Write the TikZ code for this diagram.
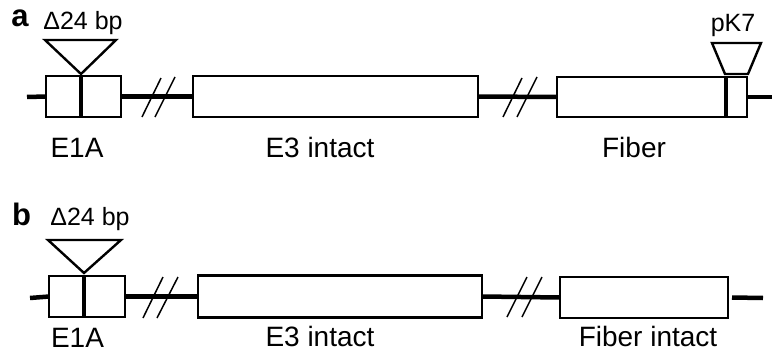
\documentclass[tikz,border=0pt]{standalone}
\usepackage{fontspec}
\setmainfont{Liberation Sans}
\usetikzlibrary{calc}
\begin{document}
\begin{tikzpicture}[x=1pt,y=-1pt,
  gene/.style={draw,line width=2.8pt,fill=white,rectangle,inner sep=0pt,outer sep=0pt},
  backbone/.style={line width=4.5pt},
  divider/.style={line width=4.2pt},
  breakmark/.style={line width=1.5pt},
  insert/.style={draw,line width=2.4pt,line join=miter,fill=white},
  lbl/.style={anchor=base,inner sep=0pt,font=\fontsize{28}{32}\selectfont},
  smalllbl/.style={anchor=base,inner sep=0pt,font=\fontsize{25}{29}\selectfont},
  panel/.style={anchor=base,inner sep=0pt,font=\fontsize{31}{35}\selectfont\bfseries}]
\useasboundingbox (0,0) rectangle (772,356);

% ---------------- panel a ----------------
\coordinate (aL) at (27,97);
\coordinate (aR) at (772,97);
\node[gene,minimum width=75pt,minimum height=41pt] (aE1A) at (83.5,96.5) {};
\node[gene,minimum width=285pt,minimum height=41pt] (aE3) at (335.5,96.5) {};
\node[gene,minimum width=169pt,minimum height=40pt] (aFib) at (641.5,97) {};
\node[gene,minimum width=21pt,minimum height=40pt] (aPK) at (736.5,97) {};
\draw[backbone] (aL) -- (aE1A.west);
\draw[backbone] (aE1A.east) -- (aE3.west);
\draw[backbone] (aE3.east) -- (aFib.west);
\draw[backbone] (aPK.east) -- (aR);
\draw[divider] (81,76) -- (81,117.5);
\draw[divider] (726,77) -- (726,117.5);
% break marks
\draw[breakmark] (142,117) -- (161,78) (155,117) -- (175,77);
\draw[breakmark] (503,117) -- (522,78) (517,117) -- (537,77);
% inserts
\draw[insert] (45,40) -- (116,40) -- (81,74) -- cycle;
\draw[insert] (712,43) -- (761,43) -- (748,74) -- (725,74) -- cycle;
% labels
\node[panel] (aTag) at (20,27) {a};
\node[smalllbl] (aDel) at (83,30) {Δ24 bp};
\node[smalllbl] (aPKl) at (733,31) {pK7};
\node[lbl] (aE1Al) at (77,157) {E1A};
\node[lbl] (aE3l) at (320,157) {E3 intact};
\node[lbl] (aFibl) at (634,157) {Fiber};

% ---------------- panel b ----------------
\coordinate (bL) at (30,298);
\coordinate (bR) at (763,298);
\node[gene,minimum width=76pt,minimum height=41pt] (bE1A) at (87,296.5) {};
\node[gene,minimum width=284pt,minimum height=42pt] (bE3) at (340,296.5) {};
\node[gene,minimum width=168pt,minimum height=41pt] (bFib) at (644,297.5) {};
\draw[backbone] (bL) -- (bE1A.west);
\draw[backbone] (bE1A.east) -- (bE3.west);
\draw[backbone] (bE3.east) -- (bFib.west);
\draw[backbone] ($(bFib.east)+(4,0)$) -- (bR);
\draw[divider] (84,276) -- (84,317.5);
% break marks
\draw[breakmark] (143,318) -- (163,277) (157,318) -- (178,277);
\draw[breakmark] (507,317) -- (527,277) (522,317) -- (542,277);
% insert
\draw[insert] (48,240) -- (121,240) -- (84,273) -- cycle;
% labels
\node[panel] (bTag) at (21.5,225) {b};
\node[smalllbl] (bDel) at (90,225) {Δ24 bp};
\node[lbl] (bE1Al) at (77.5,347) {E1A};
\node[lbl] (bE3l) at (320,346) {E3 intact};
\node[lbl] (bFibl) at (648,346) {Fiber intact};
\end{tikzpicture}
\end{document}
